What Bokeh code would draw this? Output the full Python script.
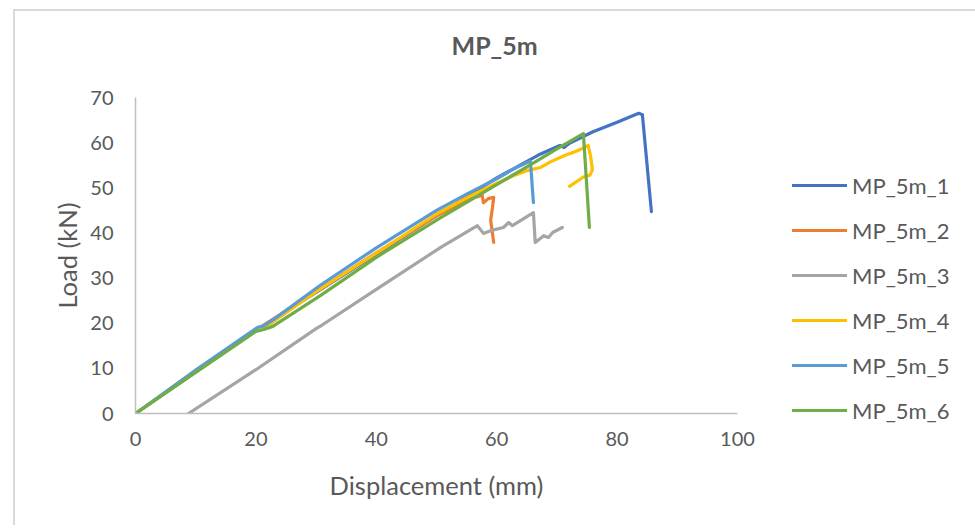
from bokeh.plotting import figure
from bokeh.models import Range1d, FixedTicker, Legend, LegendItem, Title
from bokeh.embed import file_html
from bokeh.resources import INLINE

# ---- data ----
names = ["MP_5m_1", "MP_5m_2", "MP_5m_3", "MP_5m_4", "MP_5m_5", "MP_5m_6"]
colors = ["#4472C4", "#ED7D31", "#A5A5A5", "#FFC000", "#5B9BD5", "#70AD47"]

x1 = [0, 10, 20, 30, 40, 50, 60, 67.3, 70.5, 71.2, 72, 76, 80, 83.6, 84.2, 85.7]
y1 = [0, 9.2, 18.4, 26.8, 35.3, 43.8, 52.2, 57.5, 59.4, 58.9, 59.8, 62.4, 64.5, 66.5, 66.2, 44.7]

x2 = [0, 10, 20, 30, 40, 50, 56.1, 57.6, 57.8, 58.6, 59.5, 59.3, 59.0, 59.5]
y2 = [0, 9.3, 18.5, 27.0, 35.6, 43.8, 47.8, 48.3, 46.7, 47.6, 47.9, 45.6, 42.8, 37.9]

x3 = [8.8, 20, 30, 31, 40, 50.7, 56.8, 57.8, 59.0, 61.1, 62.0, 62.6, 66.1, 66.4, 67.8, 68.6, 69.3, 70.9]
y3 = [0, 9.7, 18.8, 19.6, 27.5, 36.8, 41.6, 39.9, 40.5, 41.2, 42.3, 41.6, 44.5, 37.9, 39.4, 39.0, 40.1, 41.2]

x4 = [0, 10, 20, 22, 30, 40, 50, 55, 60, 63, 65, 67.3, 69, 71.4, 73, 74.4, 75.2, 75.6, 75.9, 75.5, 74.4, 72.1]
y4 = [0, 9.3, 18.5, 19.5, 27.0, 35.5, 44.2, 47.8, 51.0, 52.8, 53.8, 54.5, 55.8, 57.2, 58.0, 58.8, 59.4, 57.0, 54.0, 52.8, 52.4, 50.3]

x5 = [0, 10, 20.3, 21.3, 22.9, 30.7, 40, 50, 55, 60, 63, 65.1, 65.6, 66.1]
y5 = [0, 9.6, 19.1, 19.4, 20.8, 28.4, 36.7, 45.0, 48.6, 52.0, 54.3, 55.6, 55.9, 46.7]

x6 = [0, 10, 20, 21.3, 22.8, 30.7, 40, 50.7, 60, 65.1, 70, 74.4, 75.4]
y6 = [0, 9.1, 18.2, 18.6, 19.3, 26.1, 34.6, 43.4, 50.7, 54.7, 58.6, 62.0, 41.2]

xs = [x1, x2, x3, x4, x5, x6]
ys = [y1, y2, y3, y4, y5, y6]

x_ticks = [0, 20, 40, 60, 80, 100]
y_ticks = [0, 10, 20, 30, 40, 50, 60, 70]

FONT = "Lato"
TXT = "#595959"

p = figure(frame_width=602, frame_height=316, output_backend="svg", toolbar_location=None,
           x_range=Range1d(0, 100), y_range=Range1d(0, 70),
           min_border_left=120, min_border_right=222, min_border_top=86, min_border_bottom=112)

# light grey chart-area border (top and left edges are visible in the reference)
p.styles = {"margin-left": "13px", "margin-top": "9px",
            "border-left": "2px solid #D9D9D9", "border-top": "2px solid #D9D9D9"}

p.title.text = "MP_5m"
p.title.text_font = FONT
p.title.text_font_size = "25px"
p.title.text_font_style = "bold"
p.title.text_color = TXT
p.title.align = "left"
p.title.vertical_align = "top"
p.title.offset = 316
p.title.standoff = 37

# empty spacer between the frame and the title
p.add_layout(Title(text=" ", text_font_size="1px", standoff=14), "above")

p.outline_line_color = None
p.background_fill_color = "white"
p.border_fill_color = "white"
p.xgrid.grid_line_color = None
p.ygrid.grid_line_color = None

for ax in (p.xaxis[0], p.yaxis[0]):
    ax.axis_line_color = "#BFBFBF"
    ax.axis_line_width = 1.5
    ax.major_tick_line_color = None
    ax.minor_tick_line_color = None
    ax.major_tick_in = 0
    ax.major_tick_out = 0
    ax.major_label_text_font = FONT
    ax.major_label_text_font_size = "20px"
    ax.major_label_text_color = TXT
    ax.axis_label_text_font = FONT
    ax.axis_label_text_font_size = "25.5px"
    ax.axis_label_text_font_style = "normal"
    ax.axis_label_text_color = TXT

p.xaxis[0].ticker = FixedTicker(ticks=x_ticks)
p.yaxis[0].ticker = FixedTicker(ticks=y_ticks)
p.xaxis[0].axis_label = "Displacement (mm)"
p.yaxis[0].axis_label = "Load (kN)"
p.xaxis[0].major_label_standoff = 18
p.xaxis[0].axis_label_standoff = 21
p.yaxis[0].major_label_standoff = 22
p.yaxis[0].axis_label_standoff = 5

items = []
for xv, yv, c, n in zip(xs, ys, colors, names):
    r = p.line(xv, yv, line_color=c, line_width=3.2, line_join="round", line_cap="round")
    items.append(LegendItem(label=n, renderers=[r]))

legend = Legend(items=items, location=(55, -12), orientation="vertical",
                label_text_font=FONT, label_text_font_size="22px", label_text_color=TXT,
                glyph_width=55, glyph_height=30, label_height=30, label_standoff=5,
                spacing=15, padding=0, margin=0,
                border_line_color=None, background_fill_alpha=0)
p.add_layout(legend, "right")

open("out.html", "w").write(file_html(p, INLINE))
